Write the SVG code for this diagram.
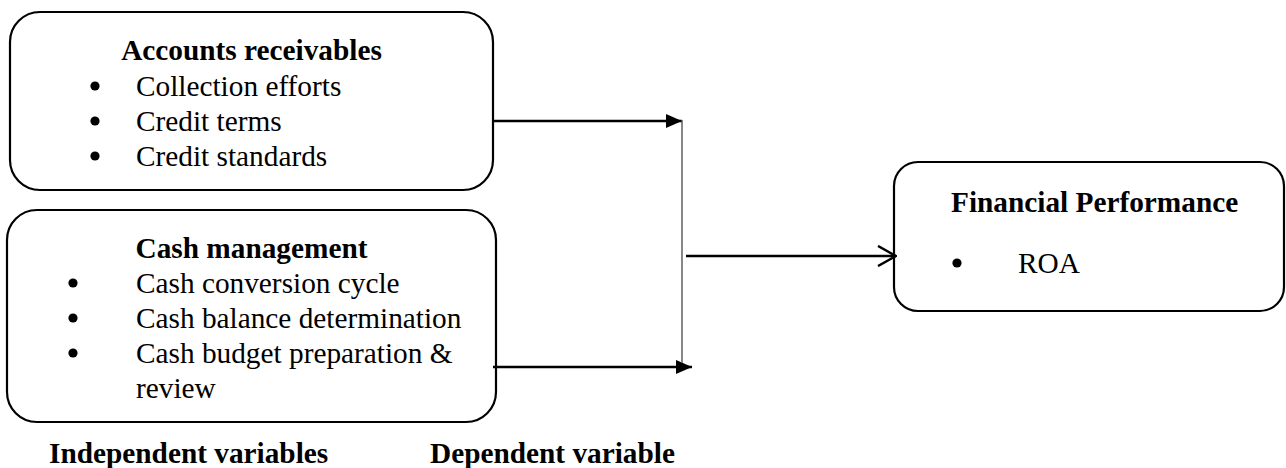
<svg xmlns="http://www.w3.org/2000/svg" width="1286" height="468" viewBox="0 0 1286 468">
  <style>
    .box { fill: #fff; stroke: #000; stroke-width: 2.2; }
    .t { font-family: "Liberation Serif", "Times New Roman", serif; font-size: 29.3px; fill: #000; }
    .b { font-weight: bold; }
    .dot { fill: #000; }
    .wire { fill: none; stroke: #000; stroke-width: 2.5; }
  </style>
  <defs>
    <marker id="solid" viewBox="0 0 16 14" refX="16" refY="7" markerWidth="16" markerHeight="14" markerUnits="userSpaceOnUse" orient="auto">
      <path d="M0,0 L16,7 L0,14 Z" fill="#000"/>
    </marker>
    <marker id="open" viewBox="0 0 20 22" refX="19" refY="11" markerWidth="20" markerHeight="22" markerUnits="userSpaceOnUse" orient="auto">
      <path d="M1,1 L19,11 L1,21" fill="none" stroke="#000" stroke-width="2.5"/>
    </marker>
  </defs>

  <g id="accounts-receivables">
    <rect class="box" x="10" y="12" width="483" height="178" rx="30" ry="30"/>
    <text class="t b" x="251.5" y="60" text-anchor="middle">Accounts receivables</text>
    <circle class="dot" cx="95" cy="86" r="4.6"/>
    <text class="t" x="136" y="96">Collection efforts</text>
    <circle class="dot" cx="95" cy="121" r="4.6"/>
    <text class="t" x="136" y="131">Credit terms</text>
    <circle class="dot" cx="95" cy="156" r="4.6"/>
    <text class="t" x="136" y="166">Credit standards</text>
  </g>

  <g id="cash-management">
    <rect class="box" x="7" y="210" width="489" height="212" rx="30" ry="30"/>
    <text class="t b" x="251.5" y="258" text-anchor="middle">Cash management</text>
    <circle class="dot" cx="73" cy="283" r="4.6"/>
    <text class="t" x="136" y="293">Cash conversion cycle</text>
    <circle class="dot" cx="73" cy="318" r="4.6"/>
    <text class="t" x="136" y="328">Cash balance determination</text>
    <circle class="dot" cx="73" cy="353" r="4.6"/>
    <text class="t" x="136" y="363">Cash budget preparation &amp;</text>
    <text class="t" x="136" y="398">review</text>
  </g>

  <g id="financial-performance">
    <rect class="box" x="894" y="162" width="390" height="149" rx="24" ry="24"/>
    <text class="t b" x="951" y="212">Financial Performance</text>
    <circle class="dot" cx="957" cy="263" r="4.6"/>
    <text class="t" x="1018" y="273">ROA</text>
  </g>

  <g id="connectors">
    <line class="wire" x1="493" y1="121" x2="682" y2="121" marker-end="url(#solid)"/>
    <line class="wire" x1="493" y1="367" x2="692" y2="367" marker-end="url(#solid)"/>
    <line x1="682" y1="120" x2="682" y2="363" stroke="#555" stroke-width="1.4"/>
    <line class="wire" x1="686" y1="256" x2="896" y2="256" marker-end="url(#open)"/>
  </g>

  <g id="legend">
    <text class="t b" x="49" y="463">Independent variables</text>
    <text class="t b" x="430" y="463">Dependent variable</text>
  </g>
</svg>
